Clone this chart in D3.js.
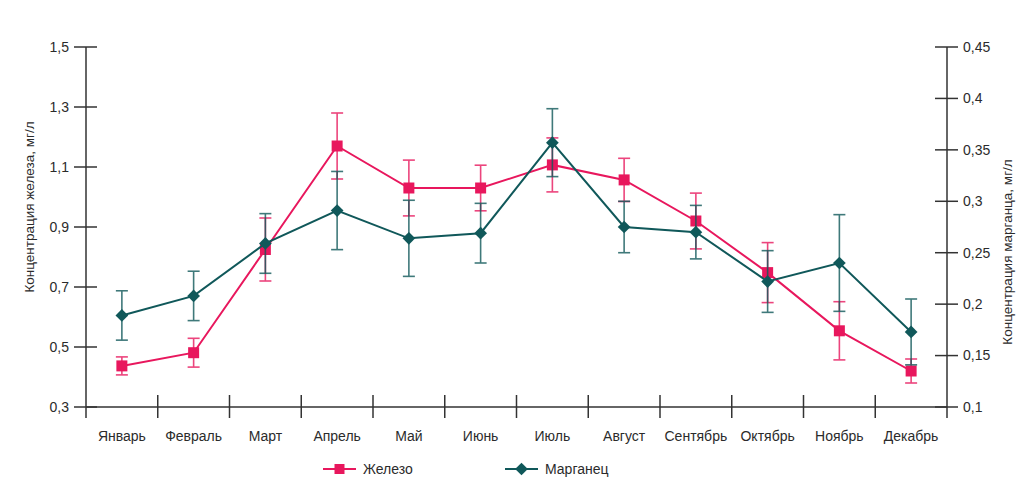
<!DOCTYPE html>
<html lang="ru">
<head>
<meta charset="UTF-8">
<title>Железо и марганец</title>
<script src="https://d3js.org/d3.v7.min.js"></script>
<style>
    body { margin: 0; background: #fff; }
    svg text { font-family: "Liberation Sans", Arial, sans-serif; fill: #2b2b2b; }
</style>
</head>
<body>
<svg id="chart"></svg>
<script>
    const months = ["Январь", "Февраль", "Март", "Апрель", "Май", "Июнь", "Июль", "Август", "Сентябрь", "Октябрь", "Ноябрь", "Декабрь"];

    // Железо, мг/л (левая ось)
    const iron = [0.437, 0.481, 0.825, 1.17, 1.03, 1.03, 1.107, 1.057, 0.92, 0.748, 0.554, 0.42];
    const ironErr = [0.03, 0.048, 0.105, 0.11, 0.093, 0.076, 0.09, 0.072, 0.093, 0.1, 0.097, 0.04];

    // Марганец, мг/л (правая ось)
    const manganese = [0.189, 0.208, 0.259, 0.291, 0.264, 0.269, 0.357, 0.275, 0.27, 0.222, 0.24, 0.173];
    const manganeseErr = [0.024, 0.024, 0.029, 0.038, 0.037, 0.029, 0.033, 0.025, 0.026, 0.03, 0.047, 0.032];

    const leftTicks = [0.3, 0.5, 0.7, 0.9, 1.1, 1.3, 1.5];
    const rightTicks = [0.1, 0.15, 0.2, 0.25, 0.3, 0.35, 0.4, 0.45];

    const width = 1036, height = 484;
    const mLeft = 86, mRight = 947, mTop = 47, mBottom = 407;
    const ironColor = "#e8175d", mnColor = "#10585a", axisColor = "#333";

    const svg = d3.select("#chart").attr("width", width).attr("height", height);

    const x = d3.scaleBand().domain(months).range([mLeft, mRight]).padding(0);
    const yL = d3.scaleLinear().domain([0.3, 1.5]).range([mBottom, mTop]);
    const yR = d3.scaleLinear().domain([0.1, 0.45]).range([mBottom, mTop]);

    const fmt = d => String(+d.toFixed(2)).replace(".", ",");

    // оси
    const g = svg.append("g").attr("stroke", axisColor).attr("stroke-width", 1.5);
    g.append("line").attr("x1", mLeft).attr("x2", mRight).attr("y1", mBottom).attr("y2", mBottom);
    g.append("line").attr("x1", mLeft).attr("x2", mLeft).attr("y1", mTop).attr("y2", mBottom + 11);
    g.append("line").attr("x1", mRight).attr("x2", mRight).attr("y1", mTop).attr("y2", mBottom + 11);

    g.selectAll(".xt").data(months.slice(1)).join("line")
        .attr("x1", d => x(d)).attr("x2", d => x(d))
        .attr("y1", mBottom - 12).attr("y2", mBottom + 11);

    g.selectAll(".lt").data(leftTicks).join("line")
        .attr("x1", mLeft - 12).attr("x2", mLeft + 11)
        .attr("y1", d => yL(d)).attr("y2", d => yL(d));

    g.selectAll(".rt").data(rightTicks).join("line")
        .attr("x1", mRight - 12).attr("x2", mRight + 11)
        .attr("y1", d => yR(d)).attr("y2", d => yR(d));

    svg.selectAll(".ll").data(leftTicks).join("text")
        .attr("x", mLeft - 17).attr("y", d => yL(d)).attr("dy", "0.35em")
        .attr("text-anchor", "end").attr("font-size", 14).text(fmt);

    svg.selectAll(".rl").data(rightTicks).join("text")
        .attr("x", mRight + 16).attr("y", d => yR(d)).attr("dy", "0.35em")
        .attr("font-size", 14).text(fmt);

    svg.selectAll(".ml").data(months).join("text")
        .attr("x", d => x(d) + x.bandwidth() / 2).attr("y", mBottom + 34)
        .attr("text-anchor", "middle").attr("font-size", 14).text(d => d);

    svg.append("text").attr("transform", "translate(34,207) rotate(-90)")
        .attr("text-anchor", "middle").attr("font-size", 13.5)
        .text("Концентрация железа, мг/л");
    svg.append("text").attr("transform", "translate(1012,252) rotate(-90)")
        .attr("text-anchor", "middle").attr("font-size", 13.5)
        .text("Концентрация марганца, мг/л");

    const cx = i => x(months[i]) + x.bandwidth() / 2;

    function drawSeries(values, errs, y, color, shape) {
        const s = svg.append("g");
        // погрешности
        const eb = s.append("g").attr("stroke", color).attr("stroke-width", 1.6).attr("opacity", 0.8);
        values.forEach((v, i) => {
            const x0 = cx(i), y1 = y(v + errs[i]), y2 = y(v - errs[i]);
            eb.append("line").attr("x1", x0).attr("x2", x0).attr("y1", y1).attr("y2", y2);
            eb.append("line").attr("x1", x0 - 6).attr("x2", x0 + 6).attr("y1", y1).attr("y2", y1);
            eb.append("line").attr("x1", x0 - 6).attr("x2", x0 + 6).attr("y1", y2).attr("y2", y2);
        });
        s.append("path")
            .datum(values)
            .attr("fill", "none").attr("stroke", color).attr("stroke-width", 2)
            .attr("d", d3.line().x((d, i) => cx(i)).y(d => y(d)));
        s.selectAll("path.m").data(values).join("path")
            .attr("class", "m")
            .attr("fill", color)
            .attr("transform", (d, i) => `translate(${cx(i)},${y(d)})` + (shape === "diamond" ? " rotate(45)" : ""))
            .attr("d", shape === "diamond" ? "M-4.5,-4.5H4.5V4.5H-4.5Z" : "M-5.5,-5.5H5.5V5.5H-5.5Z");
    }

    drawSeries(iron, ironErr, yL, ironColor, "square");
    drawSeries(manganese, manganeseErr, yR, mnColor, "diamond");

    // легенда
    const legend = [
        { name: "Железо", color: ironColor, shape: "square", x: 323 },
        { name: "Марганец", color: mnColor, shape: "diamond", x: 505 }
    ];
    const lg = svg.selectAll(".lg").data(legend).join("g")
        .attr("transform", d => `translate(${d.x},469)`);
    lg.append("line").attr("x1", 0).attr("x2", 33)
        .attr("stroke", d => d.color).attr("stroke-width", 2);
    lg.append("path")
        .attr("fill", d => d.color)
        .attr("transform", d => "translate(16.5,0)" + (d.shape === "diamond" ? " rotate(45)" : ""))
        .attr("d", d => d.shape === "diamond" ? "M-4.5,-4.5H4.5V4.5H-4.5Z" : "M-5,-5H5V5H-5Z");
    lg.append("text").attr("x", 40).attr("dy", "0.35em").attr("font-size", 14).text(d => d.name);
</script>
</body>
</html>
